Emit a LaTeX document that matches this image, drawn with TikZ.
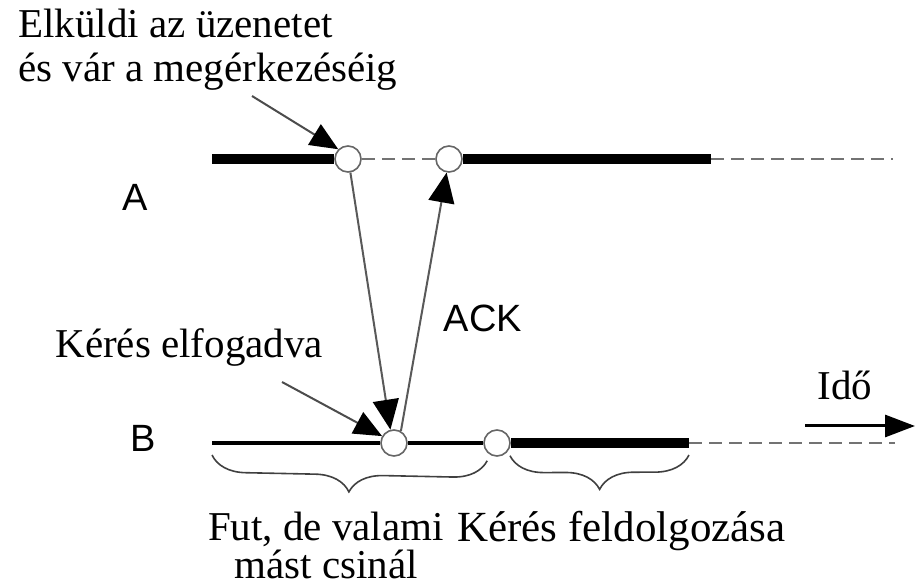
\documentclass[tikz,border=0pt]{standalone}
\usepackage{fontspec}
\setmainfont{Liberation Serif}
\setsansfont{Liberation Sans}
\usetikzlibrary{arrows.meta,positioning,decorations.pathreplacing}

\tikzset{
  busy/.style={line width=5pt},
  waiting/.style={line width=2pt},
  idle/.style={draw=black!55, line width=1.3pt, dash pattern=on 6.5pt off 3.5pt},
  event/.style={circle, draw=black!60, fill=white, line width=0.8pt,
    minimum size=13pt, inner sep=0pt},
  msg/.style={draw=black!65, line width=1pt,
    -{Triangle[length=15pt,width=13pt,color=black]}},
  pointer/.style={draw=black!70, line width=1pt,
    -{Triangle[length=14pt,width=12pt,color=black]}},
  timeline/.style={line width=1.5pt, -{Triangle[length=15pt,width=11pt]}},
  note/.style={font=\fontsize{20.5}{22}\selectfont, inner sep=0pt},
  proc/.style={font=\sffamily\fontsize{19}{22}\selectfont, inner sep=0pt},
  spanbrace/.style={decorate, decoration={brace, mirror, amplitude=17pt},
    draw=black!75, line width=0.8pt},
}

\begin{document}
\begin{tikzpicture}[x=0.5pt, y=-0.5pt, on grid]
    \useasboundingbox (0,0) rectangle (921,587);

    % events on the two processes
    \node[event] (a1) at (348,159) {};
    \node[event, right=50.5pt of a1] (a2) {};
    \node[event, below right=142pt and 23pt of a1] (b1) {};
    \node[event, right=51.5pt of b1] (b2) {};

    \coordinate (a0) at (212,159);
    \coordinate (a3) at (711,159);
    \coordinate (a4) at (893,159);
    \coordinate (b0) at (212,443);
    \coordinate (b3) at (689,443);
    \coordinate (b4) at (895,443);

    % process A
    \draw[busy] (a0) -- (a1);
    \draw[idle] (a1) -- (a2);
    \draw[busy] (a2) -- (a3);
    \draw[idle] (a3) -- (a4);
    % process B
    \draw[waiting] (b0) -- (b1);
    \draw[waiting] (b1) -- (b2);
    \draw[busy] (b2) -- (b3);
    \draw[idle] (b3) -- (b4);

    \node[proc] (labA) at (135,197) {A};
    \node[proc] (labB) at (143,438) {B};

    % request and acknowledgement
    \draw[msg] (a1.-80) -- (b1.105);
    \draw[msg] (b1.60) -- (a2.-100);
    \node[proc] (ack) at (483,318) {ACK};

    \node[note, anchor=north west, align=left] (send) at (18,9)
        {Elküldi az üzenetet\\és vár a megérkezéséig};
    \coordinate (sendfrom) at (252,96);
    \draw[pointer] (sendfrom) -- (a1.135);

    \node[note, anchor=base west] (accept) at (55,358) {Kérés elfogadva};
    \coordinate (acceptfrom) at (282,382);
    \draw[pointer] (acceptfrom) -- (b1.150);

    % time axis
    \coordinate (t0) at (805,426);
    \coordinate (t1) at (915,426);
    \draw[timeline] (t0) -- (t1);
    \node[note, anchor=base west] (ido) at (817,400) {Idő};

    % phases of B
    \draw[spanbrace] ([yshift=-6pt]b0) -- ([yshift=-4pt]b2.south west);
    \draw[spanbrace] ([yshift=-4pt]b2.-20) -- ([yshift=-6pt]b3);

    \node[note, font=\fontsize{20.5}{19}\selectfont, anchor=north, align=center]
        (other) at (326,512) {Fut, de valami\\mást csinál};
    \node[note, font=\fontsize{21.5}{19}\selectfont, anchor=base west]
        (work) at (457,541) {Kérés feldolgozása};
\end{tikzpicture}
\end{document}
